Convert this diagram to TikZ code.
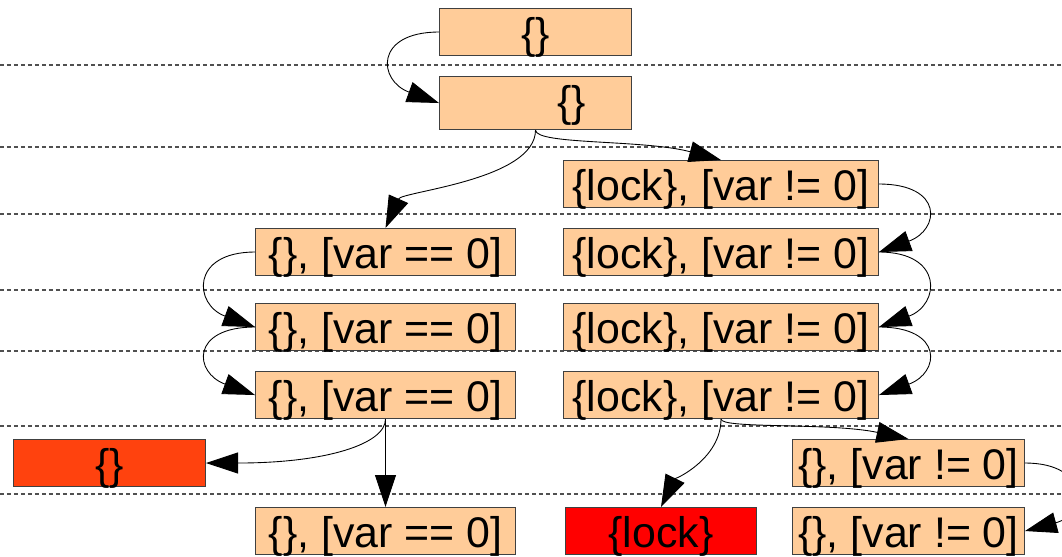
\documentclass[tikz,border=0pt]{standalone}
\usepackage{fontspec}
\setmainfont{Liberation Sans}
\usetikzlibrary{arrows.meta}
\definecolor{boxfill}{HTML}{FFCC99}
\definecolor{failfill}{HTML}{FF420E}
\definecolor{lockfill}{HTML}{FF0000}
\definecolor{boxline}{HTML}{404040}
\definecolor{sepgray}{HTML}{505050}
\begin{document}
\begin{tikzpicture}[x=0.02cm,y=0.02cm,
  font=\fontsize{24.4}{29}\selectfont,
  statebox/.style={draw=boxline,line width=0.6pt,fill=boxfill,anchor=north west,
    inner xsep=0pt,inner ysep=0pt,text height=0.8cm,text depth=0.14cm},
  conn/.style={line width=0.5pt,-{Triangle[length=0.64cm,width=0.42cm]}},
  sideloop/.style={conn,distance=1.3cm},
  rowsep/.style={draw=sepgray,line width=0.6pt,dash pattern=on 0.08cm off 0.06cm}]
\clip (0,0) rectangle (1062,556);
% rows
\foreach \y in {491,409,342,266,205,130,62}
  \draw[rowsep] (0,\y) -- (1062,\y);
% states
\node[statebox,minimum width=3.84cm] (st0) at (439,548) {\{\}};
\node[statebox,minimum width=3.84cm,text depth=0.26cm] (st1) at (439,480) {\hspace*{1.44cm}\{\}};
\node[statebox,minimum width=6.3cm] (lk1) at (563,396) {\{lock\}, [var != 0]};
\node[statebox,minimum width=6.3cm] (lk2) at (563,328) {\{lock\}, [var != 0]};
\node[statebox,minimum width=6.3cm] (lk3) at (563,253) {\{lock\}, [var != 0]};
\node[statebox,minimum width=6.3cm] (lk4) at (563,185) {\{lock\}, [var != 0]};
\node[statebox,minimum width=5.2cm] (eq1) at (255,328) {\{\}, [var == 0]};
\node[statebox,minimum width=5.2cm] (eq2) at (255,253) {\{\}, [var == 0]};
\node[statebox,minimum width=5.2cm] (eq3) at (255,185) {\{\}, [var == 0]};
\node[statebox,minimum width=5.2cm] (eq4) at (255,49) {\{\}, [var == 0]};
\node[statebox,minimum width=3.84cm,fill=failfill] (fail) at (13,117) {\{\}};
\node[statebox,minimum width=3.82cm,fill=lockfill] (lock) at (565,49) {\{lock\}};
\node[statebox,minimum width=4.64cm] (ne1) at (792,117) {\{\}, [var != 0]};
\node[statebox,minimum width=4.64cm] (ne2) at (792,49) {\{\}, [var != 0]};
% arrows
\draw[sideloop] (st0.west) to[out=180,in=160] (st1.west);
\draw[conn] (st1.south) to[out=-90,in=165,out distance=0.3cm,in distance=1.6cm] (lk1.north);
\draw[conn] (st1.south) to[out=-90,in=66,out distance=1cm,in distance=0.8cm] (eq1.north);
\draw[sideloop] (lk1.east) to[out=0,in=20] (lk2.east);
\draw[sideloop] (lk2.east) to[out=0,in=20] (lk3.east);
\draw[sideloop] (lk3.east) to[out=0,in=20] (lk4.east);
\draw[sideloop] (eq1.west) to[out=180,in=160] (eq2.west);
\draw[sideloop] (eq2.west) to[out=180,in=160] (eq3.west);
\draw[conn] (eq3.south) to[out=-90,in=0,out distance=0.5cm,in distance=2.4cm] (fail.east);
\draw[conn] (eq3.south) -- (eq4.north);
\draw[conn] (lk4.south) to[out=-90,in=168,out distance=0.2cm,in distance=1.6cm] (ne1.north);
\draw[conn] (lk4.south) to[out=-90,in=64,out distance=0.8cm,in distance=0.6cm] (lock.north);
\draw[sideloop] (ne1.east) to[out=0,in=15] (ne2.east);
\end{tikzpicture}
\end{document}
